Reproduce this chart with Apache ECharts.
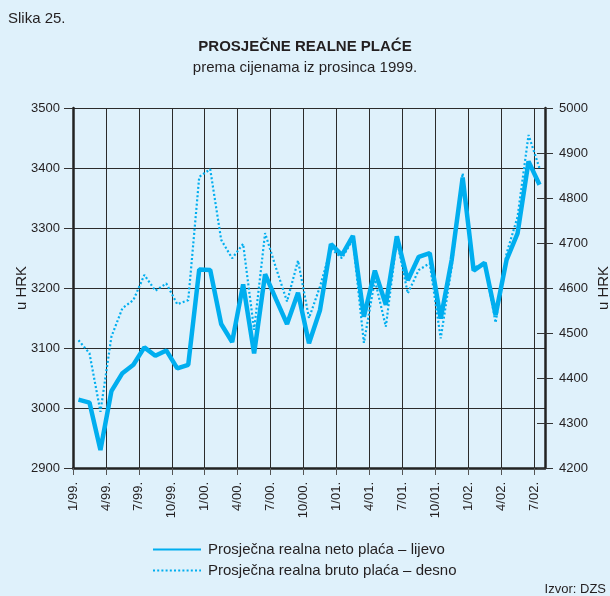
<!DOCTYPE html>
<html>
<head>
<meta charset="utf-8">
<script src="https://cdn.jsdelivr.net/npm/echarts@6/dist/echarts.min.js"></script>
<style>
  html, body { margin: 0; padding: 0; background: #dff1fb; }
  #chart { width: 610px; height: 596px; }
</style>
</head>
<body>
<div id="chart"></div>
<script>
// mjesečni podaci 1/99. – 7/02.
const tickLabels = ['1/99.', '4/99.', '7/99.', '10/99.', '1/00.', '4/00.', '7/00.', '10/00.',
  '1/01.', '4/01.', '7/01.', '10/01.', '1/02.', '4/02.', '7/02.'];

// neto plaća (lijeva os)
const netoPlaca = [3014, 3009, 2930, 3028, 3058, 3072, 3101, 3087, 3096, 3066, 3072, 3231,
  3230, 3140, 3110, 3206, 3091, 3223, 3181, 3140, 3192, 3108, 3163, 3273,
  3255, 3287, 3152, 3229, 3172, 3286, 3213, 3252, 3258, 3149, 3247, 3384,
  3229, 3242, 3155, 3247, 3291, 3411, 3372];

// bruto plaća (desna os)
const brutoPlaca = [4484, 4455, 4325, 4492, 4555, 4573, 4629, 4594, 4610, 4564, 4573, 4847,
  4864, 4707, 4666, 4698, 4507, 4722, 4644, 4570, 4661, 4533, 4603, 4688,
  4666, 4708, 4478, 4618, 4514, 4707, 4588, 4640, 4655, 4488, 4647, 4855,
  4645, 4655, 4523, 4677, 4758, 4940, 4866];

const lineColor = '#00aeef';
const textColor = '#231f20';
const font = 'Liberation Sans';

const chart = echarts.init(document.getElementById('chart'));

const toPoints = arr => arr.map((v, i) => [i + 0.5, v]);

chart.setOption({
  backgroundColor: '#dff1fb',
  textStyle: { fontFamily: font, color: textColor },
  title: {
    text: 'PROSJEČNE REALNE PLAĆE',
    subtext: 'prema cijenama iz prosinca 1999.',
    left: 'center',
    top: 34,
    itemGap: 6,
    textStyle: { fontFamily: font, fontSize: 15, fontWeight: 'bold', color: textColor },
    subtextStyle: { fontFamily: font, fontSize: 15, color: textColor }
  },
  graphic: [
    { type: 'text', left: 8, top: 11, style: { text: 'Slika 25.', font: '15px "Liberation Sans"', fill: textColor } },
    { type: 'text', right: 4, top: 583, style: { text: 'Izvor: DZS', font: '13px "Liberation Sans"', fill: textColor } }
  ],
  legend: {
    orient: 'vertical',
    left: 147,
    top: 537,
    itemWidth: 48,
    itemHeight: 10,
    itemGap: 6,
    itemStyle: { opacity: 0 },
    data: ['Prosječna realna neto plaća – lijevo', 'Prosječna realna bruto plaća – desno'],
    textStyle: { fontFamily: font, fontSize: 15, color: textColor, padding: [0, 0, 0, 2] }
  },
  grid: { left: 73, right: 65, top: 108, bottom: 128, outerBoundsMode: 'none' },
  xAxis: {
    type: 'value',
    min: 0,
    max: tickLabels.length * 3 - 2,
    interval: 3,
    axisLine: { lineStyle: { color: '#222', width: 2.5 } },
    axisTick: { length: 7, lineStyle: { color: '#555', width: 1 } },
    axisLabel: {
      rotate: 90,
      margin: 14,
      fontSize: 13,
      color: textColor,
      showMaxLabel: false,
      formatter: v => (v % 3 === 0 ? tickLabels[v / 3] || '' : '')
    },
    splitLine: { show: true, lineStyle: { color: '#2b2b2b', width: 1 } }
  },
  yAxis: [
    {
      type: 'value',
      min: 2900,
      max: 3500,
      interval: 100,
      name: 'u HRK',
      nameLocation: 'middle',
      nameRotate: 90,
      nameGap: 44,
      nameMoveOverlap: false,
      nameTextStyle: { fontFamily: font, fontSize: 15, color: textColor },
      axisLine: { show: true, lineStyle: { color: '#222', width: 2.5 } },
      axisTick: { show: true, length: 9, lineStyle: { color: '#333' } },
      axisLabel: { fontSize: 13, color: textColor, margin: 13, formatter: v => String(v) },
      splitLine: { lineStyle: { color: '#2b2b2b', width: 1 } }
    },
    {
      type: 'value',
      position: 'right',
      min: 4200,
      max: 5000,
      interval: 100,
      name: 'u HRK',
      nameLocation: 'middle',
      nameRotate: 90,
      nameGap: 51,
      nameMoveOverlap: false,
      nameTextStyle: { fontFamily: font, fontSize: 15, color: textColor },
      axisLine: { show: true, lineStyle: { color: '#222', width: 2.5 } },
      axisTick: { show: true, length: 8, lineStyle: { color: '#333' } },
      axisLabel: { fontSize: 13, color: textColor, margin: 14, formatter: v => String(v) },
      splitLine: { show: false }
    },
    {
      // unutarnji dio crtica na desnoj osi
      type: 'value',
      position: 'right',
      min: 4200,
      max: 5000,
      interval: 100,
      axisLine: { show: false },
      axisTick: { show: true, inside: true, length: 8, lineStyle: { color: '#333' } },
      axisLabel: { show: false },
      splitLine: { show: false }
    }
  ],
  series: [
    {
      name: 'Prosječna realna bruto plaća – desno',
      type: 'line',
      yAxisIndex: 1,
      data: toPoints(brutoPlaca),
      symbol: 'none',
      z: 2,
      lineStyle: { color: lineColor, width: 2.2, type: [2, 2.2] },
      itemStyle: { color: lineColor }
    },
    {
      name: 'Prosječna realna neto plaća – lijevo',
      type: 'line',
      yAxisIndex: 0,
      data: toPoints(netoPlaca),
      symbol: 'none',
      z: 3,
      lineStyle: { color: lineColor, width: 4.5 },
      itemStyle: { color: lineColor }
    }
  ]
});
</script>
</body>
</html>
